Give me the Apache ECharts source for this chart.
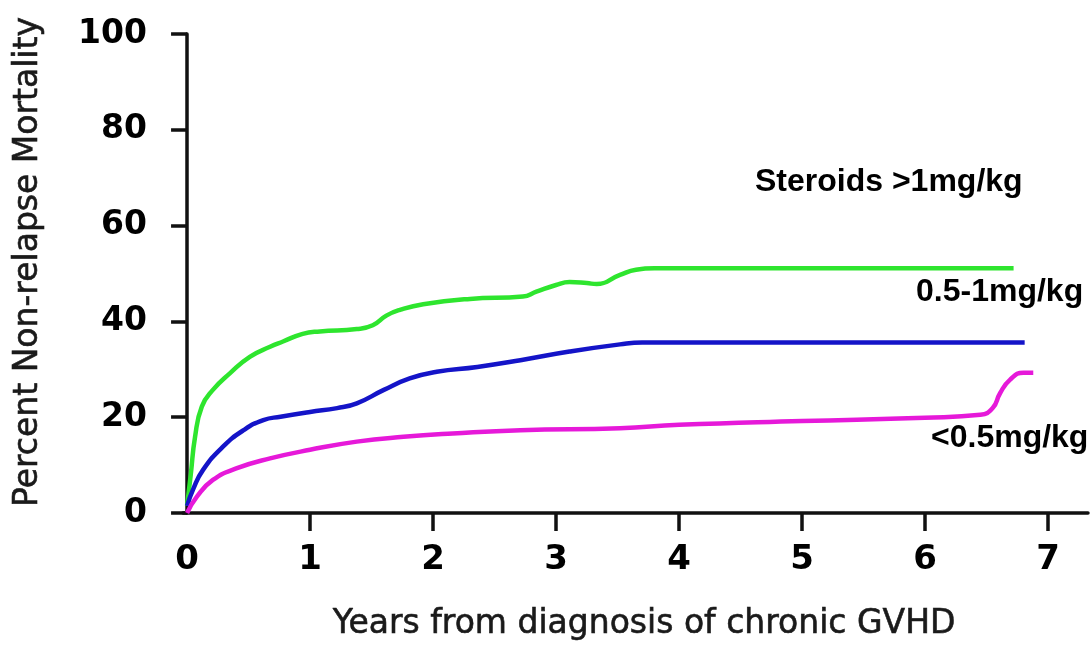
<!DOCTYPE html>
<html>
<head>
<meta charset="utf-8">
<script src="https://cdn.jsdelivr.net/npm/echarts@6/dist/echarts.min.js"></script>
<style>
html,body{margin:0;padding:0;background:#fff;}
#chart{width:1092px;height:645px;}
</style>
</head>
<body>
<div id="chart"></div>
<script>
// ---- data ----
const xTickValues = [0, 1, 2, 3, 4, 5, 6, 7];
const yTickValues = [0, 20, 40, 60, 80, 100];

const greenX = [0, 0.03, 0.065, 0.12, 0.21, 0.35, 0.51, 0.675, 0.78, 0.94, 1.08, 1.38, 1.51, 1.62, 1.73, 1.92, 2.30, 2.73, 2.84, 3.0, 3.11, 3.25, 3.33, 3.52, 3.65, 3.8, 4.5, 6.72];
const greenY = [1.5, 8, 15.9, 22.2, 25.7, 29.2, 32.6, 34.7, 35.8, 37.4, 37.9, 38.4, 39.2, 41.2, 42.4, 43.6, 44.7, 45.2, 46.2, 47.6, 48.2, 48.0, 47.8, 49.7, 50.8, 51.1, 51.1, 51.1];

const blueX = [0, 0.05, 0.13, 0.29, 0.46, 0.62, 0.76, 1.0, 1.22, 1.38, 1.6, 1.81, 2.03, 2.36, 2.71, 3.11, 3.52, 3.7, 4.2, 6.81];
const blueY = [1.5, 5, 9, 13.8, 17.3, 19.4, 20.1, 21.1, 21.9, 22.9, 25.7, 28.1, 29.5, 30.5, 31.9, 33.7, 35.2, 35.6, 35.6, 35.6];

const magentaX = [0, 0.08, 0.21, 0.40, 0.675, 1.0, 1.38, 1.76, 2.16, 2.71, 3.52, 4.0, 5.0, 6.0, 6.45, 6.55, 6.61, 6.69, 6.80, 6.88];
const magentaY = [0, 3.4, 6.9, 9.3, 11.4, 13.2, 14.9, 15.9, 16.6, 17.3, 17.7, 18.4, 19.2, 19.9, 20.5, 21.9, 25, 27.8, 29.3, 29.3];

const seriesNames = ['Steroids >1mg/kg', '0.5-1mg/kg', '<0.5mg/kg'];
const xAxisTitle = 'Years from diagnosis of chronic GVHD';
const yAxisTitle = 'Percent Non-relapse Mortality';

function pairs(xs, ys) { return xs.map((x, i) => [x, ys[i]]); }

const chart = echarts.init(document.getElementById('chart'), null, {renderer: 'canvas'});

const lineCommon = {
  type: 'line',
  showSymbol: false,
  symbol: 'none',
  smooth: 0.5,
  clip: false,
  silent: true
};

chart.setOption({
  animation: false,
  backgroundColor: '#ffffff',
  grid: { left: 183, right: 4, top: 34, bottom: 132, outerBoundsMode: 'none', containLabel: false },
  xAxis: {
    type: 'value',
    min: -0.033,
    max: 7.325,
    splitLine: { show: false },
    axisLine: { show: true, lineStyle: { color: '#111', width: 3.5 } },
    axisTick: { show: true, length: 18, lineStyle: { color: '#111', width: 3.5 }, customValues: xTickValues.slice(1) },
    axisLabel: {
      customValues: xTickValues,
      margin: 30,
      color: '#000',
      fontFamily: 'DejaVu Sans',
      fontWeight: 'bold',
      fontSize: 34,
      formatter: v => String(Math.round(v))
    }
  },
  yAxis: {
    type: 'value',
    min: 0,
    max: 100,
    interval: 20,
    splitLine: { show: false },
    axisLine: { show: true, lineStyle: { color: '#111', width: 3.5 } },
    axisTick: { show: true, length: 16, lineStyle: { color: '#111', width: 3.5 } },
    axisLabel: {
      margin: 36,
      color: '#000',
      fontFamily: 'DejaVu Sans',
      fontWeight: 'bold',
      fontSize: 33
    }
  },
  graphic: [
    {
      type: 'text', x: 28, y: 262, rotation: Math.PI / 2,
      style: { text: yAxisTitle, fill: '#1a1a1a', font: '33px "DejaVu Sans"', textAlign: 'center', textVerticalAlign: 'middle', stroke: '#1a1a1a', lineWidth: 0.6 }
    },
    {
      type: 'text', x: 644, y: 624,
      style: { text: xAxisTitle, fill: '#1a1a1a', font: '33px "DejaVu Sans"', textAlign: 'center', textVerticalAlign: 'middle', stroke: '#1a1a1a', lineWidth: 0.6 }
    },
    {
      type: 'text', x: 755, y: 182,
      style: { text: seriesNames[0], fill: '#000', font: 'bold 32px "Liberation Sans"', textAlign: 'left', textVerticalAlign: 'middle' }
    },
    {
      type: 'text', x: 916, y: 292,
      style: { text: seriesNames[1], fill: '#000', font: 'bold 32px "Liberation Sans"', textAlign: 'left', textVerticalAlign: 'middle' }
    },
    {
      type: 'text', x: 931, y: 438,
      style: { text: seriesNames[2], fill: '#000', font: 'bold 32px "Liberation Sans"', textAlign: 'left', textVerticalAlign: 'middle' }
    }
  ],
  series: [
    Object.assign({}, lineCommon, { name: seriesNames[0], data: pairs(greenX, greenY), lineStyle: { color: '#2ee52e', width: 4.5 }, itemStyle: { color: '#2ee52e' } }),
    Object.assign({}, lineCommon, { name: seriesNames[1], data: pairs(blueX, blueY), lineStyle: { color: '#1414c8', width: 4.5 }, itemStyle: { color: '#1414c8' } }),
    Object.assign({}, lineCommon, { name: seriesNames[2], data: pairs(magentaX, magentaY), lineStyle: { color: '#e619d9', width: 4.5 }, itemStyle: { color: '#e619d9' } })
  ]
});
</script>
</body>
</html>
